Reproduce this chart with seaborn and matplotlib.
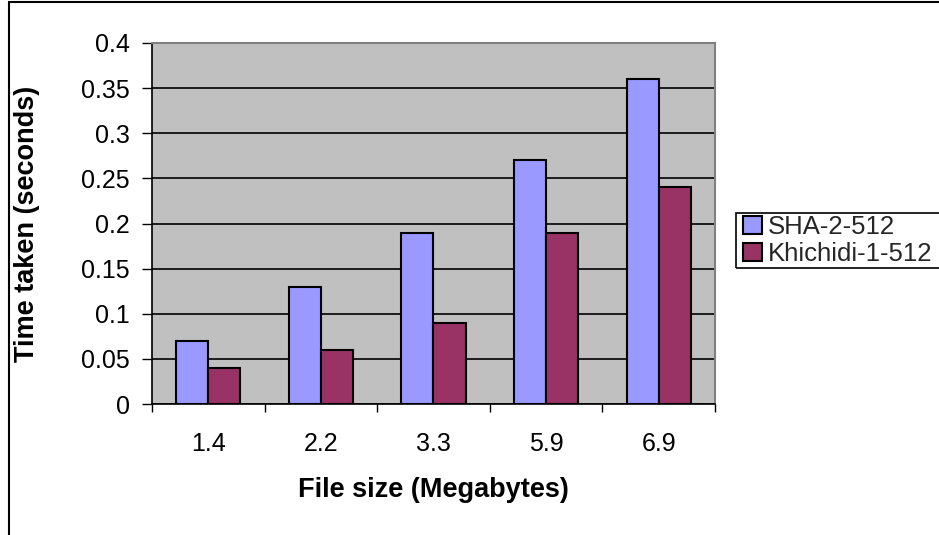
import matplotlib
matplotlib.use("Agg")
import matplotlib.pyplot as plt
from matplotlib.lines import Line2D
from matplotlib.patches import Rectangle
import seaborn as sns
import pandas as pd

file_sizes = ["1.4", "2.2", "3.3", "5.9", "6.9"]
sha2_512 = [0.07, 0.13, 0.19, 0.27, 0.36]
khichidi_1_512 = [0.04, 0.06, 0.09, 0.19, 0.24]
series_names = ["SHA-2-512", "Khichidi-1-512"]
y_ticks = [0, 0.05, 0.1, 0.15, 0.2, 0.25, 0.3, 0.35, 0.4]
y_tick_labels = ["0", "0.05", "0.1", "0.15", "0.2", "0.25", "0.3", "0.35", "0.4"]

df = pd.DataFrame({
    "size": file_sizes * 2,
    "time": sha2_512 + khichidi_1_512,
    "algo": [series_names[0]] * len(file_sizes) + [series_names[1]] * len(file_sizes),
})

sns.set_theme(style="white")
plt.rcParams["font.family"] = ["Liberation Sans", "DejaVu Sans"]

W, H = 939, 535
fig = plt.figure(figsize=(W / 100, H / 100), dpi=100)
fig.patch.set_facecolor("white")

# plot area in pixel terms
x0, x1, y0, y1 = 152, 715, 43, 404
ax = fig.add_axes([x0 / W, 1 - y1 / H, (x1 - x0) / W, (y1 - y0) / H])
ax.set_facecolor("#C0C0C0")

sns.barplot(data=df, x="size", y="time", hue="algo", order=file_sizes,
            hue_order=series_names, palette=["#9999FF", "#993366"],
            width=0.57, edgecolor="black", linewidth=1.5, saturation=1,
            ax=ax, zorder=3)

ax.set_ylim(0, 0.4)
ax.set_yticks(y_ticks)
ax.set_yticklabels(y_tick_labels)
ax.set_xlim(-0.5, len(file_sizes) - 0.5)
ax.yaxis.grid(True, color="black", linewidth=1.2, zorder=0)
ax.set_axisbelow(True)

# x ticks at category boundaries, labels centred between them
ax.set_xticks([i - 0.5 for i in range(len(file_sizes) + 1)], minor=False)
ax.set_xticklabels([""] * (len(file_sizes) + 1))
ax.set_xticks(range(len(file_sizes)), minor=True)
ax.set_xticklabels(file_sizes, minor=True)
ax.tick_params(axis="x", which="major", direction="out", length=6, width=1,
               color="black", bottom=True)
ax.tick_params(axis="x", which="minor", length=0, pad=20, labelsize=18,
               labelcolor="black")
ax.tick_params(axis="y", direction="out", length=7, width=1, color="black",
               left=True, pad=9, labelsize=18, labelcolor="black")

for side in ["left", "bottom"]:
    ax.spines[side].set_color("black")
    ax.spines[side].set_linewidth(1.2)
for side in ["top", "right"]:
    ax.spines[side].set_color("#808080")
    ax.spines[side].set_linewidth(1.5)

ax.set_xlabel("File size (Megabytes)", fontsize=19.5, fontweight="bold",
              color="black")
ax.xaxis.set_label_coords(0.5, (y1 - 477) / (y1 - y0))
ax.set_ylabel("Time taken (seconds)", fontsize=19.5, fontweight="bold",
              color="black")
ax.yaxis.set_label_coords((40 - x0) / (x1 - x0), 0.5)

# legend: entries without frame, box drawn separately so it runs off the right edge
leg_top, leg_bottom, leg_left = 213, 268, 736
handles, labels = ax.get_legend_handles_labels()
leg = fig.legend(handles, labels, loc="center left",
                 bbox_to_anchor=(leg_left / W + 0.0075,
                                 1 - (leg_top + leg_bottom) / 2 / H),
                 fontsize=18.5, frameon=False, handlelength=0.75,
                 handleheight=0.75, handletextpad=0.2, labelspacing=0.12,
                 borderpad=0, borderaxespad=0)
if ax.get_legend() is not None:
    ax.get_legend().remove()
fig.add_artist(Rectangle((leg_left / W, 1 - leg_bottom / H),
                         (W + 20 - leg_left) / W, (leg_bottom - leg_top) / H,
                         transform=fig.transFigure, facecolor="none",
                         edgecolor="black", linewidth=1.2))

# outer chart border (left and top edges)
fig.add_artist(Line2D([8.5 / W, 8.5 / W], [0, 1 - 1.5 / H],
                      transform=fig.transFigure, color="black", linewidth=1.5))
fig.add_artist(Line2D([8.5 / W, 1], [1 - 1.5 / H, 1 - 1.5 / H],
                      transform=fig.transFigure, color="black", linewidth=1.5))

fig.savefig("out.png", dpi=100)
